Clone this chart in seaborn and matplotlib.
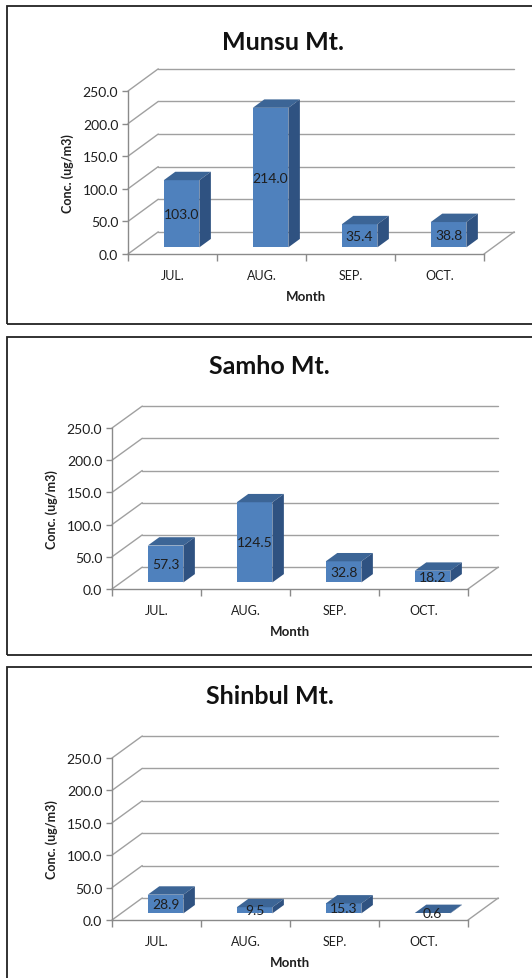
import matplotlib
matplotlib.use("Agg")
import matplotlib.pyplot as plt
from matplotlib.patches import Polygon, Rectangle
import seaborn as sns
import pandas as pd

# ---- data ----
months = ["JUL.", "AUG.", "SEP.", "OCT."]
titles = ["Munsu Mt.", "Samho Mt.", "Shinbul Mt."]
munsu = [103.0, 214.0, 35.4, 38.8]
samho = [57.3, 124.5, 32.8, 18.2]
shinbul = [28.9, 9.5, 15.3, 0.6]
series = [munsu, samho, shinbul]
yticks = [0, 50, 100, 150, 200, 250]
ylabel = "Conc. (ug/m3)"
xlabel = "Month"

# ---- style ----
sns.set_theme(style="white")
plt.rcParams["font.family"] = ["Lato", "DejaVu Sans"]

W, H = 532, 979
fig = plt.figure(figsize=(W / 100, H / 100), dpi=100)

FRONT = "#4F81BD"
TOP = "#3C6596"
SIDE = "#2F5281"
GRID = "#A0A0A0"
AXC = "#8A8A8A"
TXT = "#1E1E1E"

WDX, WDY = 0.34, 34.0        # depth of back wall (category units, value units)
BSHIFT, BDEPTH = 0.30, 0.38  # bar placement within the depth

# panel layout in pixels: (axis left x, y of zero, px per value unit, box top, box bottom, title x, title y)
panels = [
    (128, 255, 0.652, 7, 325, 283, 43),
    (112, 590, 0.644, 338, 656, 269, 367),
    (112, 921, 0.648, 668, 990, 270, 697),
]
CAT_PX = 89.0

for vals, title, (axl, y0, ppu, btop, bbot, tx, ty) in zip(series, titles, panels):
    # box
    fig.patches.append(Rectangle((7 / W, 1 - bbot / H), (540 - 7) / W, (bbot - btop) / H,
                                 transform=fig.transFigure, fill=False,
                                 edgecolor="#222222", lw=1.3))
    fig.text(tx / W, 1 - ty / H, title, ha="center", va="center",
             fontsize=18, fontweight="bold", color="#111111")

    xr = 4 + WDX
    yr = 250 + WDY
    ax = fig.add_axes([axl / W, 1 - y0 / H, xr * CAT_PX / W, yr * ppu / H])
    ax.patch.set_alpha(0)
    df = pd.DataFrame({"month": months, "conc": vals})
    sns.barplot(data=df, x="month", y="conc", ax=ax, color=FRONT, saturation=1,
                width=0.4, zorder=3)

    # back wall gridlines + side diagonals
    for v in yticks:
        ax.plot([-0.5 + WDX, 3.5 + WDX], [v + WDY, v + WDY], color=GRID, lw=1.0,
                zorder=1, clip_on=False)
        ax.plot([-0.5, -0.5 + WDX], [v, v + WDY], color=GRID, lw=1.0, zorder=1,
                clip_on=False)
    # floor right edge
    ax.plot([3.5, 3.5 + WDX], [0, WDY], color=GRID, lw=1.0, zorder=1, clip_on=False)

    sx, sy = BSHIFT * WDX, BSHIFT * WDY
    bdx, bdy = BDEPTH * WDX, BDEPTH * WDY
    for p, v in zip(ax.patches, vals):
        x0, w = p.get_x(), p.get_width()
        h = p.get_height()
        p.set_x(x0 + sx)
        p.set_y(sy)
        p.set_linewidth(0)
        xa = x0 + sx
        top = Polygon([(xa, sy + h), (xa + w, sy + h), (xa + w + bdx, sy + h + bdy),
                       (xa + bdx, sy + h + bdy)], closed=True, facecolor=TOP,
                      edgecolor="none", zorder=3)
        side = Polygon([(xa + w, sy), (xa + w + bdx, sy + bdy),
                        (xa + w + bdx, sy + h + bdy), (xa + w, sy + h)], closed=True,
                       facecolor=SIDE, edgecolor="none", zorder=3)
        ax.add_patch(top)
        ax.add_patch(side)
        ax.text(xa + w / 2, sy + h / 2, f"{v:.1f}", ha="center", va="center",
                fontsize=10, color=TXT, zorder=5)

    ax.set_xlim(-0.5, 3.5 + WDX)
    ax.set_ylim(0, 250 + WDY)
    for s in ["top", "right"]:
        ax.spines[s].set_visible(False)
    ax.spines["left"].set_bounds(0, 250)
    ax.spines["bottom"].set_bounds(-0.5, 3.5)
    for s in ["left", "bottom"]:
        ax.spines[s].set_color(AXC)
        ax.spines[s].set_linewidth(1.0)

    ax.set_yticks(yticks)
    ax.set_yticklabels([f"{t:.1f}" for t in yticks])
    ax.tick_params(axis="y", which="major", length=4, width=1, color=AXC, pad=3,
                   labelsize=10, labelcolor=TXT, left=True, direction="out")
    ax.set_xticks(range(len(months)))
    ax.set_xticklabels(months)
    ax.set_xticks([-0.5, 0.5, 1.5, 2.5, 3.5], minor=True)
    ax.tick_params(axis="x", which="major", length=0, pad=11, labelsize=9,
                   labelcolor=TXT)
    ax.tick_params(axis="x", which="minor", length=5, width=1, color=AXC,
                   bottom=True, direction="out")
    ax.grid(False)

    ax.set_ylabel(ylabel, fontsize=9, fontweight="bold", color=TXT)
    ax.yaxis.set_label_coords(-60 / (xr * CAT_PX), 125 / yr)
    ax.yaxis.label.set_va("center")
    ax.set_xlabel(xlabel, fontsize=9.5, fontweight="bold", color=TXT)
    ax.xaxis.set_label_coords(2.0 / xr, -42 / (yr * ppu))
    ax.xaxis.label.set_va("center")

fig.savefig("out.png", dpi=100)
